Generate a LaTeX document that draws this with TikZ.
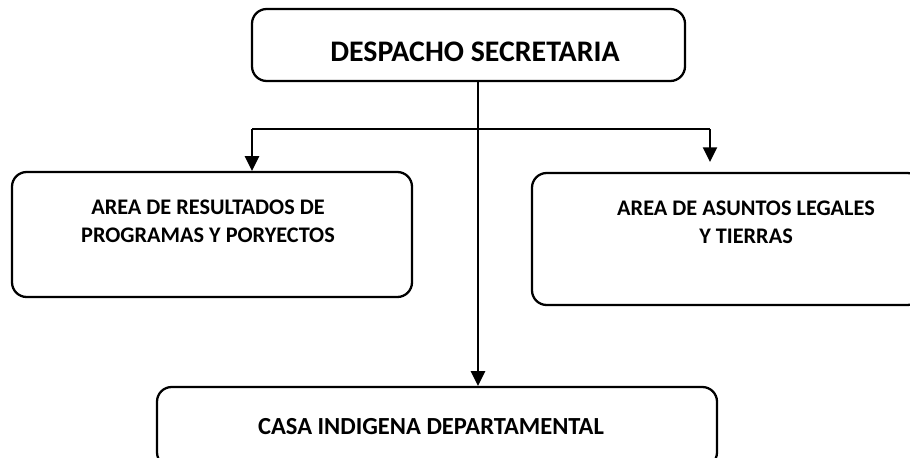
\documentclass[tikz,border=0pt]{standalone}
\usepackage{fontspec}
\setmainfont{Carlito}
\usetikzlibrary{arrows.meta}

\tikzset{every picture/.style={line width=1.7pt}}
\tikzset{
  box/.style={draw, rounded corners=11pt, inner sep=0pt},
  lbl/.style={align=center, font=\bfseries\fontsize{16.7}{21}\selectfont},
  conn/.style={-{Triangle[width=10.5pt,length=11pt]}}
}

\begin{document}
\begin{tikzpicture}[x=0.75pt,y=0.75pt,yscale=-1,xscale=1]
	\useasboundingbox (0,0) rectangle (910,457);
	\clip (0,0) rectangle (910,457);

	%Rounded Rect: despacho
	\node[box, minimum width=0.75*433pt, minimum height=0.75*72pt] (desp) at (468.5,45) {};
	%Rounded Rect: resultados
	\node[box, minimum width=0.75*400pt, minimum height=0.75*125pt] (resul) at (212,234.5) {};
	%Rounded Rect: legales
	\node[box, minimum width=0.75*390pt, minimum height=0.75*132pt] (legal) at (727,239) {};
	%Rounded Rect: casa
	\node[box, minimum width=0.75*560pt, minimum height=0.75*80pt] (casa) at (437,427) {};

	% Text Node
	\node[lbl, font=\bfseries\fontsize{22.4}{26}\selectfont] (desptxt) at (475,52) {DESPACHO SECRETARIA};
	% Text Node
	\node[lbl] (resultxt) at (208,221) {AREA DE RESULTADOS DE\\PROGRAMAS Y PORYECTOS};
	% Text Node
	\node[lbl] (legaltxt) at (746,222) {AREA DE ASUNTOS LEGALES\\Y TIERRAS};
	% Text Node
	\node[lbl, font=\bfseries\fontsize{18.4}{22}\selectfont] (casatxt) at (431,427) {CASA INDIGENA DEPARTAMENTAL};

	%Straight Lines
	\coordinate (split) at (478,129);
	\coordinate (leftend) at (252,129);
	\coordinate (rightend) at (710,129);
	\coordinate (rightarr) at (710,162);
	\draw [conn] (desp.south -| split) -- (split |- casa.north);
	\draw (leftend) -- (rightend);
	\draw [conn] (leftend) -- (leftend |- resul.north);
	\draw [conn] (rightend) -- (rightarr);

\end{tikzpicture}
\end{document}
